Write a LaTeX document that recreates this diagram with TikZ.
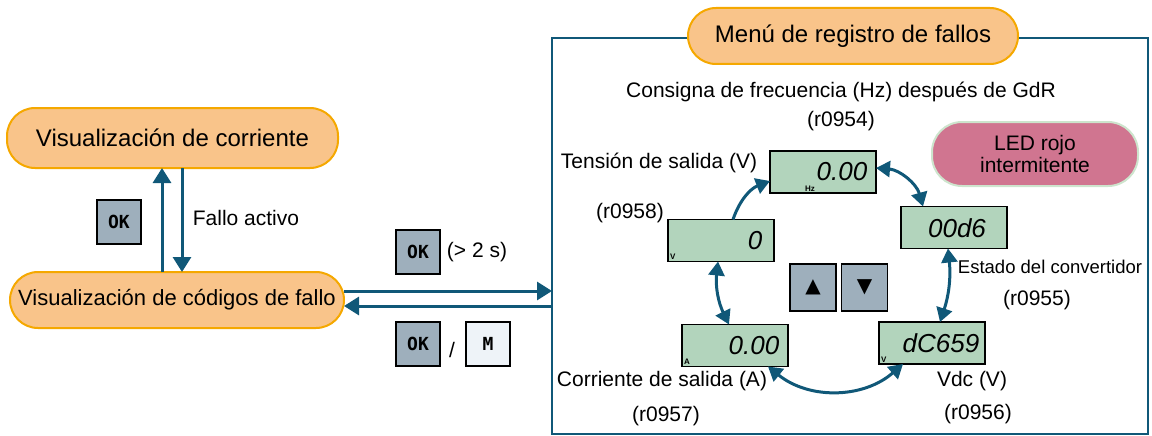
\documentclass[tikz,border=0pt]{standalone}
\usepackage{fontspec}
\setmainfont{Liberation Sans}
\newfontfamily\keyfont{DejaVu Sans Mono}
\newfontfamily\symfont{DejaVu Sans}
\usetikzlibrary{arrows.meta}
\definecolor{flowblue}{RGB}{16,88,120}
\definecolor{statefill}{RGB}{249,196,138}
\definecolor{stateedge}{RGB}{245,168,0}
\definecolor{lcdfill}{RGB}{178,212,188}
\definecolor{keygray}{RGB}{158,175,188}
\definecolor{keylight}{RGB}{238,243,248}
\definecolor{ledfill}{RGB}{208,117,144}
\definecolor{lededge}{RGB}{205,228,205}
\begin{document}
\begin{tikzpicture}[x=1pt,y=-1pt,every node/.style={inner sep=0pt, outer sep=0pt, font=\fontsize{21}{24}\selectfont},
  state/.style={draw=stateedge, fill=statefill, line width=2pt, rounded corners=28pt, minimum height=58pt},
  lcd/.style={draw=black, fill=lcdfill, line width=1.5pt, minimum width=106pt, minimum height=42pt},
  digits/.style={font=\fontsize{26}{26}\selectfont\itshape},
  unit/.style={font=\fontsize{8}{8}\selectfont\bfseries, anchor=south west},
  key/.style={draw=black, fill=keygray, line width=1.5pt, minimum width=44pt, minimum height=44pt, font=\keyfont\bfseries\fontsize{18}{18}\selectfont},
  flow/.style={draw=flowblue, line width=3pt, -{Triangle[length=15pt,width=18pt]}},
  twoway/.style={draw=flowblue, line width=3pt, {Triangle[length=14pt,width=16pt]}-{Triangle[length=14pt,width=16pt]}}]
\useasboundingbox (0,0) rectangle (1152,436);
\node[state, minimum width=331pt, minimum height=60pt, font=\fontsize{24}{28}\selectfont] (cur) at (172.5,138) {Visualización de corriente};
\node[state, minimum width=334pt, minimum height=56pt, font=\fontsize{22}{26}\selectfont] (codes) at (177,300) {Visualización de códigos de fallo};
\coordinate (upx) at (162,0);
\coordinate (downx) at (182,0);
\draw[flow] (codes.north -| upx) -- (cur.south -| upx);
\draw[flow] (cur.south -| downx) -- (codes.north -| downx);
\node[key] (ok1) at (119,222) {OK};
\node (fault) at (246,218) {Fallo activo};
\node[draw=flowblue, line width=1.5pt, minimum width=596pt, minimum height=396pt] (menu) at (850,236) {};
\node[state, minimum width=330pt, minimum height=56pt, font=\fontsize{24}{28}\selectfont] (title) at (853,36) {Menú de registro de fallos};
\coordinate (r1) at ([yshift=9pt]codes.east);
\coordinate (r2) at ([yshift=-6pt]codes.east);
\draw[flow] (r1) -- (r1 -| menu.west);
\draw[flow] (r2 -| menu.west) -- (r2);
\node[key] (ok2) at (418,252) {OK};
\node (hold) at (477,252) {(> 2 s)};
\node[key] (ok3) at (418,344) {OK};
\node (slash) at (452,350) {/};
\node[key, fill=keylight] (mkey) at (488,344) {M};
\node (t54) at (841,92) {Consigna de frecuencia (Hz) después de GdR};
\node (p54) at (841,121) {(r0954)};
\node[draw=lededge, fill=ledfill, line width=2pt, rounded corners=30pt, minimum width=206pt, minimum height=64pt, align=center, font=\fontsize{21}{22}\selectfont] (led) at (1035,154) {LED rojo\\intermitente};
\node (t58) at (659,163) {Tensión de salida (V)};
\node (p58) at (630,213) {(r0958)};
\node[lcd] (d54) at (823,172) {};
\node[digits] at (842,172) {0.00};
\node[unit] at ([xshift=35pt,yshift=2pt]d54.south west) {Hz};
\node[lcd] (d55) at (954,227.5) {};
\node[digits] at (957,228) {00d6};
\node[lcd] (d58) at (721,240.5) {};
\node[digits] at (755,241) {0};
\node[unit] at ([xshift=2pt,yshift=2pt]d58.south west) {V};
\node[lcd] (d57) at (735,345.5) {};
\node[digits] at (754,346) {0.00};
\node[unit] at ([xshift=2pt,yshift=2pt]d57.south west) {A};
\node[lcd] (d56) at (932,343) {};
\node[digits] at (941,343) {dC659};
\node[unit] at ([xshift=2pt,yshift=2pt]d56.south west) {V};
\node[key, minimum width=46pt, minimum height=47pt, font=\symfont\fontsize{20}{20}\selectfont] (upkey) at (813,287.5) {▲};
\node[key, minimum width=46pt, minimum height=47pt, font=\symfont\fontsize{20}{20}\selectfont] (downkey) at (864.5,287.5) {▼};
\node[font=\fontsize{18.5}{22}\selectfont] (t55) at (1050,267) {Estado del convertidor};
\node (p55) at (1037,300) {(r0955)};
\node (t56) at (972,381) {Vdc (V)};
\node (p56) at (978,414) {(r0956)};
\node (t57) at (662,381) {Corriente de salida (A)};
\node (p57) at (666,416) {(r0957)};
\draw[flow, -{Triangle[length=14pt,width=16pt]}] ([xshift=12pt]d58.north) to[bend left=25] ([yshift=-9pt]d54.west);
\draw[twoway] ([yshift=4pt]d54.east) to[bend left=35] ([xshift=-31pt]d55.north);
\draw[twoway] ([xshift=-6pt]d55.south) to[bend left=12] ([xshift=8pt]d56.north);
\draw[twoway] ([xshift=-29pt]d56.south) to[bend left=40] ([xshift=33pt]d57.south);
\draw[twoway] ([xshift=-6pt]d57.north) to[bend left=16] ([xshift=-3pt]d58.south);
\end{tikzpicture}
\end{document}
